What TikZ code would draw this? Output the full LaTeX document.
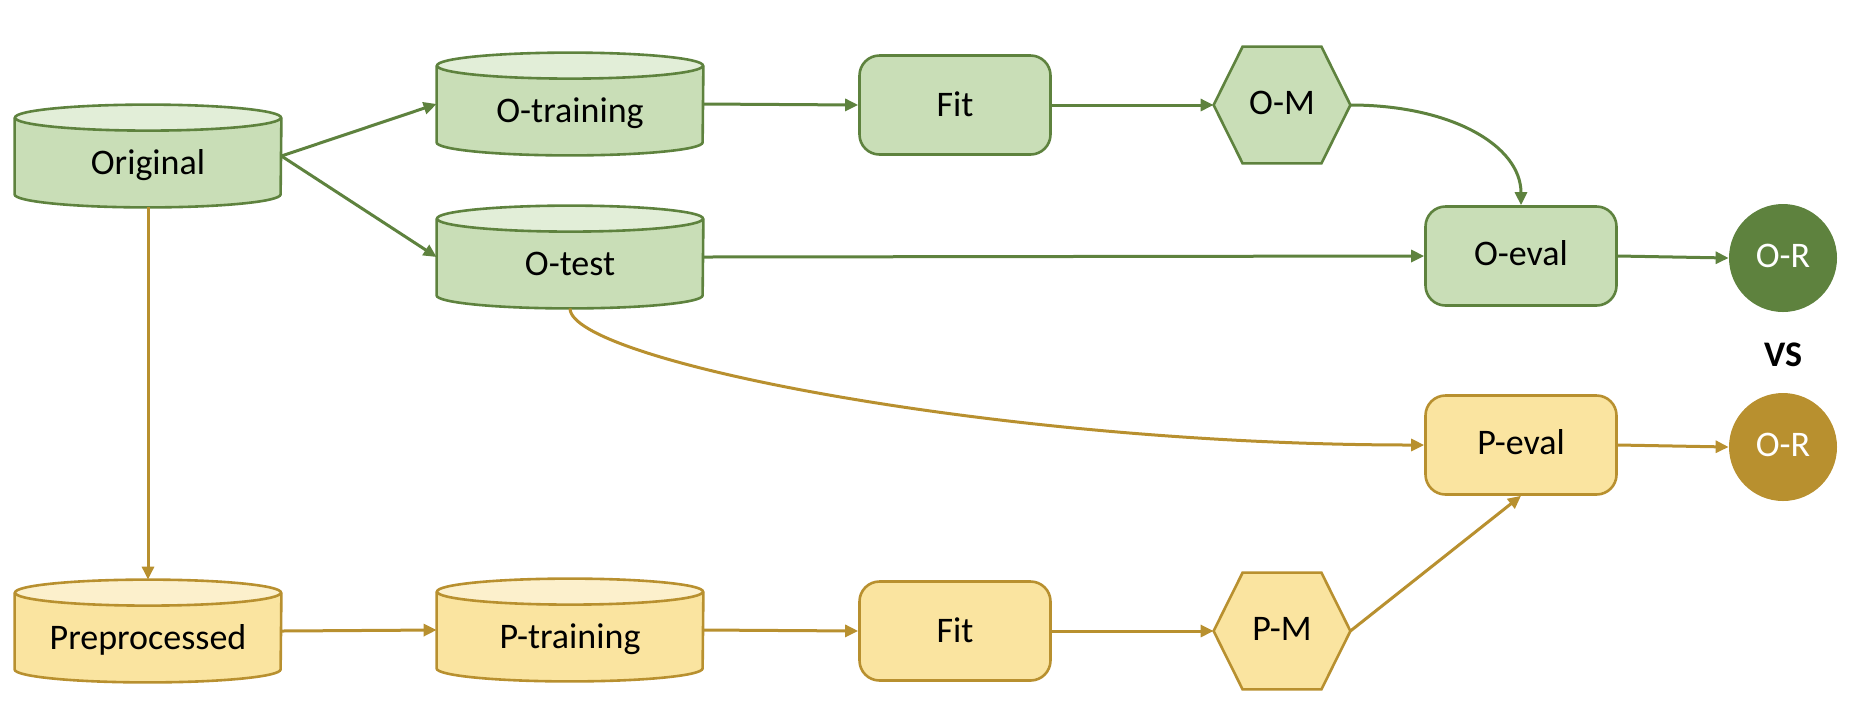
\documentclass[tikz,border=0pt]{standalone}
\usepackage{fontspec}
\setmainfont{Carlito}
\usetikzlibrary{arrows.meta}
\pgfdeclarelayer{background}
\pgfsetlayers{background,main}
\definecolor{gfill}{HTML}{C9DEB7}
\definecolor{gtop}{HTML}{E2EED8}
\definecolor{gline}{HTML}{5E823E}
\definecolor{yfill}{HTML}{FAE4A0}
\definecolor{ytop}{HTML}{FCF0CC}
\definecolor{yline}{HTML}{B8902F}
\newcommand\drawcyl[4]{%
  \fill[#2] ([yshift=-6.5pt]#1.north west) -- ([yshift=6.5pt]#1.south west)
    arc[start angle=180,end angle=360,x radius=66.5pt,y radius=6.5pt]
    -- ([yshift=-6.5pt]#1.north east) -- cycle;
  \draw[#4, line width=1.3pt] ([yshift=-6.5pt]#1.north west) -- ([yshift=6.5pt]#1.south west)
    arc[start angle=180,end angle=360,x radius=66.5pt,y radius=6.5pt]
    -- ([yshift=-6.5pt]#1.north east);
  \draw[#4, fill=#3, line width=1.3pt] ([yshift=-6.5pt]#1.north) ellipse[x radius=66.5pt, y radius=6.5pt];
}
\newcommand\drawhex[3]{%
  \draw[#3, fill=#2, line width=1.3pt] (#1.west) -- ([xshift=14.5pt]#1.north west)
    -- ([xshift=-14.5pt]#1.north east) -- (#1.east) -- ([xshift=-14.5pt]#1.south east)
    -- ([xshift=14.5pt]#1.south west) -- cycle;
}
\newcommand\cyltxt[1]{\raisebox{-4.5pt}{#1}}
\newcommand\boxtxt[1]{\raisebox{-1.3pt}{#1}}
\tikzset{
  every node/.style={font=\fontsize{18}{22}\selectfont, text height=12.6pt, text depth=3.6pt},
  cylbox/.style={rectangle, minimum width=133pt, minimum height=51pt, inner sep=0pt},
  hexbox/.style={rectangle, minimum width=68pt, minimum height=58pt, inner sep=0pt},
  gproc/.style={rectangle, rounded corners=10pt, minimum width=95.5pt, minimum height=49.5pt,
    inner sep=0pt, draw=gline, fill=gfill, line width=1.3pt},
  yproc/.style={gproc, draw=yline, fill=yfill},
  gres/.style={circle, minimum size=54pt, inner sep=0pt, fill=gline, text=white},
  yres/.style={gres, fill=yline},
  garrow/.style={draw=gline, line width=1.5pt, -{Triangle[length=6.5pt,width=6pt]}},
  yarrow/.style={garrow, draw=yline},
}
\begin{document}
\begin{tikzpicture}[x=0.5pt,y=-0.5pt]
\useasboundingbox (0,0) rectangle (1858,720);
% nodes
\node[cylbox] (orig) at (148,156) {\cyltxt{Original}};
\node[cylbox] (otrain) at (570,104) {\cyltxt{O-training}};
\node[cylbox] (otest) at (570,257) {\cyltxt{O-test}};
\node[gproc] (ofit) at (955,105) {\boxtxt{Fit}};
\node[hexbox] (om) at (1282,105) {O-M};
\node[gproc] (oeval) at (1521,256) {O-eval};
\node[gres] (or1) at (1783,258) {O-R};
\node[font=\bfseries\fontsize{18}{22}\selectfont] (vs) at (1783,357) {VS};
\node[yproc] (peval) at (1521,445) {P-eval};
\node[yres] (or2) at (1783,447) {O-R};
\node[cylbox] (prep) at (148,631) {\cyltxt{Preprocessed}};
\node[cylbox] (ptrain) at (570,630) {\cyltxt{P-training}};
\node[yproc] (pfit) at (955,631) {\boxtxt{Fit}};
\node[hexbox] (pm) at (1282,631) {P-M};
\begin{pgfonlayer}{background}
\drawcyl{orig}{gfill}{gtop}{gline}
\drawcyl{otrain}{gfill}{gtop}{gline}
\drawcyl{otest}{gfill}{gtop}{gline}
\drawcyl{prep}{yfill}{ytop}{yline}
\drawcyl{ptrain}{yfill}{ytop}{yline}
\drawhex{om}{gfill}{gline}
\drawhex{pm}{yfill}{yline}
\end{pgfonlayer}
% connectors
\draw[garrow] (orig.east) -- (otrain.west);
\draw[garrow] (orig.east) -- (otest.west);
\draw[garrow] (otrain.east) -- (ofit.west);
\draw[garrow] (ofit.east) -- (om.west);
\draw[garrow] (om.east) .. controls ([xshift=50pt]om.east) and ([yshift=30pt]oeval.north) .. (oeval.north);
\draw[garrow] (otest.east) -- (oeval.west);
\draw[garrow] (oeval.east) -- (or1.west);
\draw[yarrow] (orig.south) -- (prep.north);
\draw[yarrow] (prep.east) -- (ptrain.west);
\draw[yarrow] (ptrain.east) -- (pfit.west);
\draw[yarrow] (pfit.east) -- (pm.west);
\draw[yarrow] (pm.east) -- (peval.south);
\draw[yarrow] (peval.east) -- (or2.west);
\draw[yarrow] (otest.south) .. controls ([yshift=-26pt]otest.south) and ([xshift=-213pt]peval.west) .. (peval.west);
\end{tikzpicture}
\end{document}
